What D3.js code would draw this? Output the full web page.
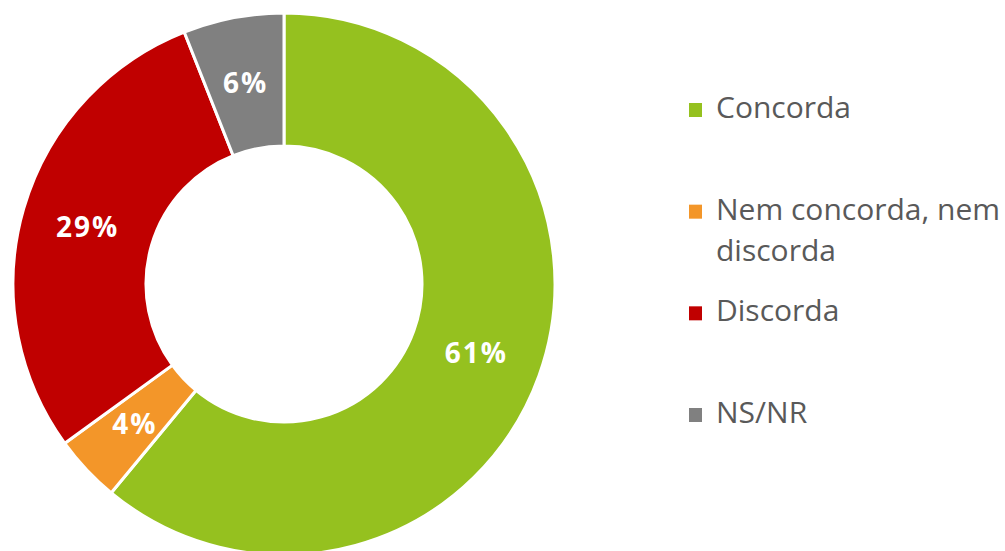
<!DOCTYPE html>
<html>
<head>
<meta charset="utf-8">
<script src="https://cdn.jsdelivr.net/npm/d3@7"></script>
<style>
  html, body { margin: 0; padding: 0; background: #fff; }
  svg { display: block; }
</style>
</head>
<body>
<div id="chart"></div>
<script>
const categories = ['Concorda', 'Nem concorda, nem discorda', 'Discorda', 'NS/NR'];
const values = [61, 4, 29, 6];
const legendLines = [['Concorda'], ['Nem concorda, nem', 'discorda'], ['Discorda'], ['NS/NR']];
const colors = ['#95c11f', '#f39629', '#c00000', '#808080'];

const width = 1005;
const height = 551;
const cx = 284, cy = 284;
const outerR = 271, innerR = 138;

const data = categories.map((c, i) => ({ name: c, value: values[i] }));

const svg = d3.select('#chart')
              .append('svg')
              .attr('width', width)
              .attr('height', height);

const color = d3.scaleOrdinal()
                .domain(categories)
                .range(colors);

const pie = d3.pie()
              .sort(null)
              .value(d => d.value);

const arc = d3.arc()
              .innerRadius(innerR)
              .outerRadius(outerR);

const g = svg.append('g')
             .attr('transform', `translate(${cx},${cy})`);

const arcs = pie(data);

g.selectAll('path')
 .data(arcs)
 .enter()
 .append('path')
 .attr('d', arc)
 .attr('fill', d => color(d.data.name))
 .attr('stroke', '#fff')
 .attr('stroke-width', 3);

// percentage labels at the centroid of each slice
g.selectAll('text')
 .data(arcs)
 .enter()
 .append('text')
 .attr('x', d => arc.centroid(d)[0])
 .attr('y', d => arc.centroid(d)[1])
 .attr('dy', '0.36em')
 .attr('text-anchor', 'middle')
 .attr('fill', '#fff')
 .style('font-family', '"Open Sans", sans-serif')
 .style('font-weight', 700)
 .style('font-size', '28px')
 .style('letter-spacing', '2px')
 .text(d => d.data.value + '%');

// legend
const legendY = d3.scalePoint()
                  .domain(categories)
                  .range([118, 423]);

const legend = svg.selectAll('.legend')
                  .data(categories)
                  .enter()
                  .append('g')
                  .attr('class', 'legend')
                  .attr('transform', d => `translate(0,${legendY(d)})`);

legend.append('rect')
      .attr('x', 689)
      .attr('y', -15)
      .attr('width', 13)
      .attr('height', 14)
      .attr('fill', d => color(d));

legend.append('text')
      .attr('x', 716)
      .attr('y', 0)
      .attr('fill', '#595959')
      .style('font-family', '"Open Sans", sans-serif')
      .style('font-size', '30px')
      .selectAll('tspan')
      .data((d, i) => legendLines[i])
      .enter()
      .append('tspan')
      .attr('x', 716)
      .attr('dy', (d, i) => i === 0 ? 0 : 41)
      .text(d => d);
</script>
</body>
</html>
